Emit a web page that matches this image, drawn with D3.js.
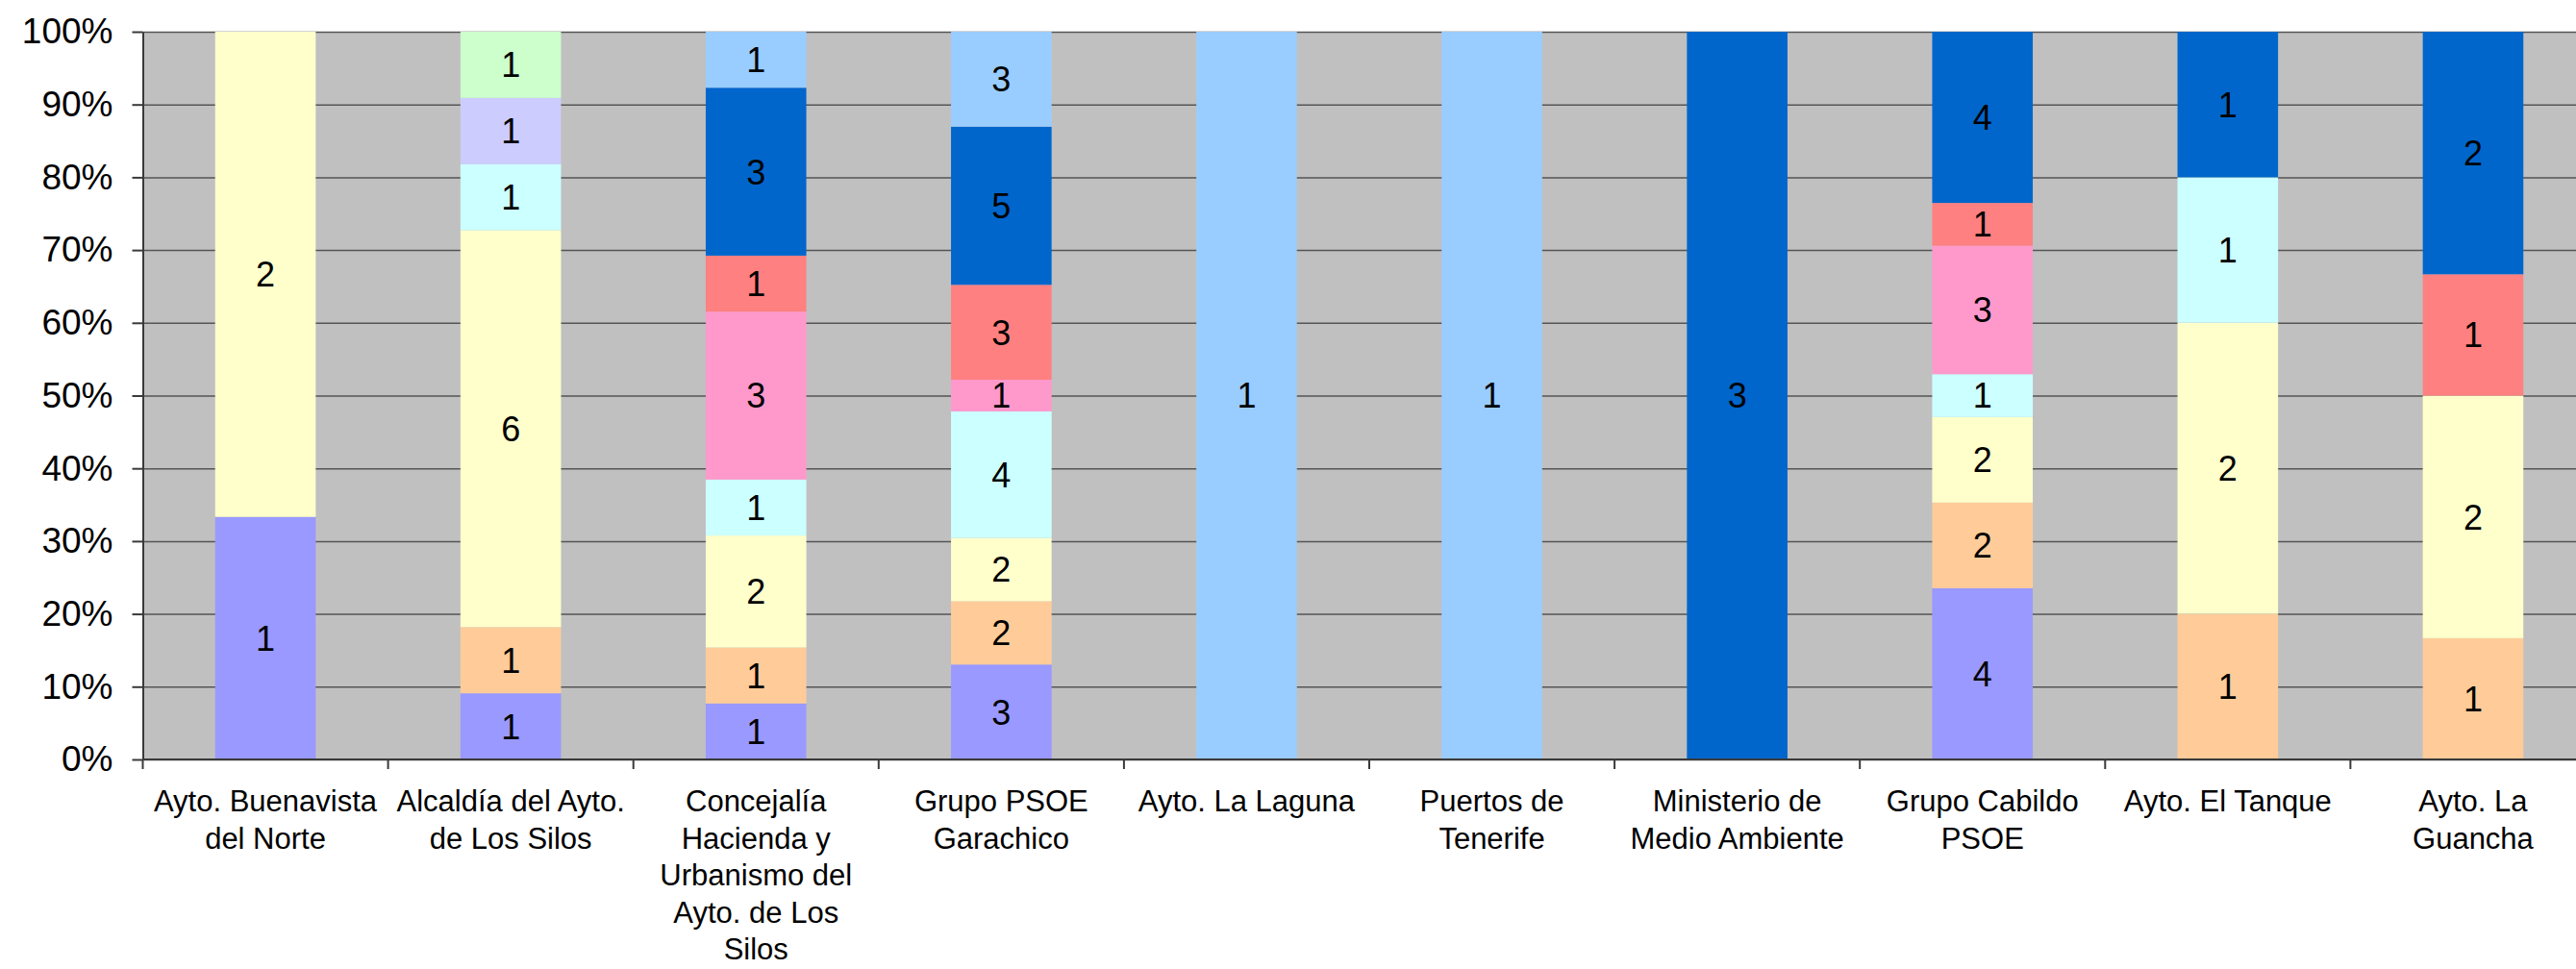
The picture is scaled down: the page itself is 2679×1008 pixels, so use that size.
<!DOCTYPE html>
<html lang="es">
<head>
  <meta charset="UTF-8" />
  <title>Distribución por organismo</title>
  <style>
    html, body {
      margin: 0; padding: 0;
      background: #ffffff;
      overflow: hidden;
    }
    svg {
      display: block;
      font-family: "Liberation Sans", Arial, sans-serif;
    }
    .grid line {
      stroke: #555555;
      stroke-width: 1.5px;
    }
    .grid path { display: none; }
    .axis path, .axis line {
      stroke: #3a3a3a;
      stroke-width: 2px;
    }
    .axis text {
      font-size: 37px;
      fill: #000;
    }
    .cat {
      font-size: 31px;
      text-anchor: middle;
      fill: #000;
    }
    .val {
      font-size: 36px;
      text-anchor: middle;
      fill: #000;
    }
  </style>
  <script src="https://d3js.org/d3.v7.min.js"></script>
</head>
<body>
  <svg id="chart"></svg>

  <script>
    // categories (line breaks as in the original labels)
    const categories = [
      "Ayto. Buenavista\ndel Norte",
      "Alcaldía del Ayto.\nde Los Silos",
      "Concejalía\nHacienda y\nUrbanismo del\nAyto. de Los\nSilos",
      "Grupo PSOE\nGarachico",
      "Ayto. La Laguna",
      "Puertos de\nTenerife",
      "Ministerio de\nMedio Ambiente",
      "Grupo Cabildo\nPSOE",
      "Ayto. El Tanque",
      "Ayto. La\nGuancha"
    ];

    // series, bottom to top
    const seriesNames = ["S1", "S2", "S3", "S4", "S5", "S6", "S7", "S8", "S9", "S10"];
    const seriesColors = ["#9999ff", "#ffcc99", "#ffffcc", "#ccffff", "#ff99cc",
                          "#ff8080", "#0066cc", "#99ccff", "#ccccff", "#ccffcc"];

    const s1  = [1, 1, 1, 3, 0, 0, 0, 4, 0, 0];
    const s2  = [0, 1, 1, 2, 0, 0, 0, 2, 1, 1];
    const s3  = [2, 6, 2, 2, 0, 0, 0, 2, 2, 2];
    const s4  = [0, 1, 1, 4, 0, 0, 0, 1, 1, 0];
    const s5  = [0, 0, 3, 1, 0, 0, 0, 3, 0, 0];
    const s6  = [0, 0, 1, 3, 0, 0, 0, 1, 0, 1];
    const s7  = [0, 0, 3, 5, 0, 0, 3, 4, 1, 2];
    const s8  = [0, 0, 1, 3, 1, 1, 0, 0, 0, 0];
    const s9  = [0, 1, 0, 0, 0, 0, 0, 0, 0, 0];
    const s10 = [0, 1, 0, 0, 0, 0, 0, 0, 0, 0];
    const seriesValues = [s1, s2, s3, s4, s5, s6, s7, s8, s9, s10];

    const yTicks = [0, 0.1, 0.2, 0.3, 0.4, 0.5, 0.6, 0.7, 0.8, 0.9, 1];

    const width = 2679;
    const height = 1008;
    const margin = { left: 148.5, top: 33, bottom: 790 };
    const plotRight = 2699.5;  // plot runs past the right edge of the picture

    const svg = d3.select("#chart")
      .attr("width", width)
      .attr("height", height);

    // build a table for d3.stack, normalised per category
    const table = categories.map((c, i) => {
      const row = { cat: c };
      const total = d3.sum(seriesValues, s => s[i]);
      seriesNames.forEach((n, k) => {
        row[n] = seriesValues[k][i] / total;
        row[n + "_raw"] = seriesValues[k][i];
      });
      return row;
    });

    const stacked = d3.stack().keys(seriesNames)(table);

    const x = d3.scaleBand()
      .domain(categories)
      .range([margin.left, plotRight])
      .paddingInner(0.59)
      .paddingOuter(0.295);

    const y = d3.scaleLinear()
      .domain([0, 1])
      .range([margin.bottom, margin.top]);

    // plot background
    svg.append("rect")
      .attr("x", margin.left)
      .attr("y", y(1))
      .attr("width", plotRight - margin.left)
      .attr("height", y(0) - y(1))
      .attr("fill", "#c0c0c0");

    // gridlines
    svg.append("g")
      .attr("class", "grid")
      .attr("transform", `translate(${margin.left},0)`)
      .call(d3.axisLeft(y).tickValues(yTicks).tickSize(-(plotRight - margin.left)).tickFormat(""));

    // bars
    const layers = svg.append("g")
      .selectAll("g")
      .data(stacked)
      .join("g")
      .attr("fill", (d, i) => seriesColors[i]);

    layers.selectAll("rect")
      .data(d => d.filter(p => p[1] - p[0] > 0))
      .join("rect")
      .attr("x", d => x(d.data.cat))
      .attr("width", x.bandwidth())
      .attr("y", d => y(d[1]))
      .attr("height", d => y(d[0]) - y(d[1]));

    // value labels
    stacked.forEach(layer => {
      svg.append("g")
        .selectAll("text")
        .data(layer.filter(p => p[1] - p[0] > 0))
        .join("text")
        .attr("class", "val")
        .attr("x", d => x(d.data.cat) + x.bandwidth() / 2)
        .attr("y", d => (y(d[0]) + y(d[1])) / 2)
        .attr("dy", "0.36em")
        .text(d => d.data[layer.key + "_raw"]);
    });

    // y axis
    svg.append("g")
      .attr("class", "axis")
      .attr("transform", `translate(${margin.left},0)`)
      .call(d3.axisLeft(y)
        .tickValues(yTicks)
        .tickFormat(d3.format(".0%"))
        .tickSize(11)
        .tickPadding(20)
        .tickSizeOuter(0));

    // x axis line and ticks between categories
    const step = x.step();
    svg.append("line")
      .attr("x1", margin.left)
      .attr("x2", plotRight)
      .attr("y1", y(0))
      .attr("y2", y(0))
      .attr("stroke", "#3a3a3a")
      .attr("stroke-width", 2);

    svg.append("g")
      .selectAll("line")
      .data(d3.range(categories.length + 1))
      .join("line")
      .attr("x1", i => margin.left + i * step)
      .attr("x2", i => margin.left + i * step)
      .attr("y1", y(0))
      .attr("y2", y(0) + 10)
      .attr("stroke", "#3a3a3a")
      .attr("stroke-width", 2);

    // category labels
    svg.append("g")
      .selectAll("text")
      .data(categories)
      .join("text")
      .attr("class", "cat")
      .attr("y", 844)
      .each(function(c) {
        const cx = x(c) + x.bandwidth() / 2;
        d3.select(this)
          .selectAll("tspan")
          .data(c.split("\n"))
          .join("tspan")
          .attr("x", cx)
          .attr("dy", (d, i) => i === 0 ? 0 : 38.5)
          .text(d => d);
      });
  </script>
</body>
</html>
